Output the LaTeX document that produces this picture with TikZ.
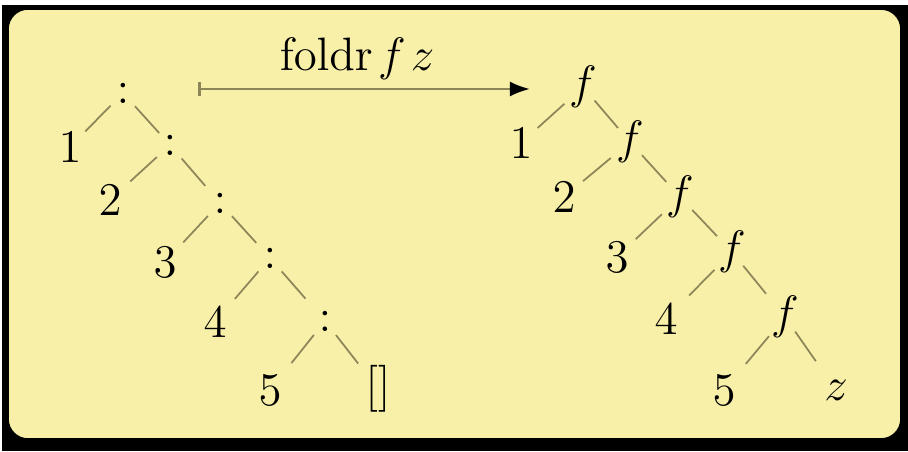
\documentclass[tikz,border=0pt]{standalone}
\usepackage{amsmath}
\usepackage{xcolor}
\usetikzlibrary{calc,arrows.meta}
\definecolor{paper}{HTML}{F8F0A8}
\definecolor{twig}{HTML}{8C8659}
\newcommand{\treeedge}[3][1.6mm]{\draw[edge] ($(#2)!#1!(#3)$) -- ($(#2)!#1+3.25mm!(#3)$);}

\begin{document}
\begin{tikzpicture}[x=0.9cm,y=0.9cm,
    every node/.style={font=\large},
    edge/.style={twig,line width=0.45pt}]
    \useasboundingbox (0,0) rectangle (9.08,4.51);

    % Frame and shadow
    \fill[white] (0,0) rectangle (9.08,4.51);
    \fill[black] (0.02,0) rectangle (9.08,4.46);
    \draw[fill=paper,rounded corners=1.8mm] (0.08,0.12) rectangle (9.01,4.42);

    % List as a tree of conses
    \node (c1) at (1.23,3.58) {$:$};
    \node (c2) at (1.70,3.06) {$:$};
    \node (c3) at (2.20,2.48) {$:$};
    \node (c4) at (2.70,1.93) {$:$};
    \node (c5) at (3.25,1.30) {$:$};
    \node (n1) at (0.70,3.04) {$1$};
    \node (n2) at (1.10,2.51) {$2$};
    \node (n3) at (1.65,1.89) {$3$};
    \node (n4) at (2.15,1.29) {$4$};
    \node (n5) at (2.70,0.61) {$5$};
    \node (nil) at (3.78,0.62) {$[]$};
    \treeedge{c1}{n1} \treeedge{c1}{c2}
    \treeedge{c2}{n2} \treeedge{c2}{c3}
    \treeedge{c3}{n3} \treeedge{c3}{c4}
    \treeedge{c4}{n4} \treeedge{c4}{c5}
    \treeedge{c5}{n5} \treeedge{c5}{nil}

    % Fold arrow
    \coordinate (mapfrom) at (1.98,3.62);
    \coordinate (mapto) at (5.30,3.62);
    \draw[twig,line width=0.7pt,{Bar[width=1.2mm]}-{Latex[length=1.8mm,width=1.35mm,black]}] (mapfrom) -- (mapto);
    \node[anchor=base] (fold) at (3.57,3.81) {$\mathrm{foldr}\mskip2mu f\mskip2mu z$};

    % Result as a tree of applications
    \node (f1) at (5.83,3.64) {$f$};
    \node (f2) at (6.30,3.09) {$f$};
    \node (f3) at (6.80,2.54) {$f$};
    \node (f4) at (7.32,1.99) {$f$};
    \node (f5) at (7.85,1.34) {$f$};
    \node (m1) at (5.21,3.08) {$1$};
    \node (m2) at (5.64,2.54) {$2$};
    \node (m3) at (6.17,1.94) {$3$};
    \node (m4) at (6.66,1.32) {$4$};
    \node (m5) at (7.24,0.61) {$5$};
    \node (z) at (8.36,0.61) {$z$};
    \treeedge[2.25mm]{f1}{m1} \treeedge{f1}{f2}
    \treeedge[2.25mm]{f2}{m2} \treeedge{f2}{f3}
    \treeedge[2.25mm]{f3}{m3} \treeedge{f3}{f4}
    \treeedge[2.25mm]{f4}{m4} \treeedge{f4}{f5}
    \treeedge[2.25mm]{f5}{m5} \treeedge{f5}{z}
\end{tikzpicture}
\end{document}
